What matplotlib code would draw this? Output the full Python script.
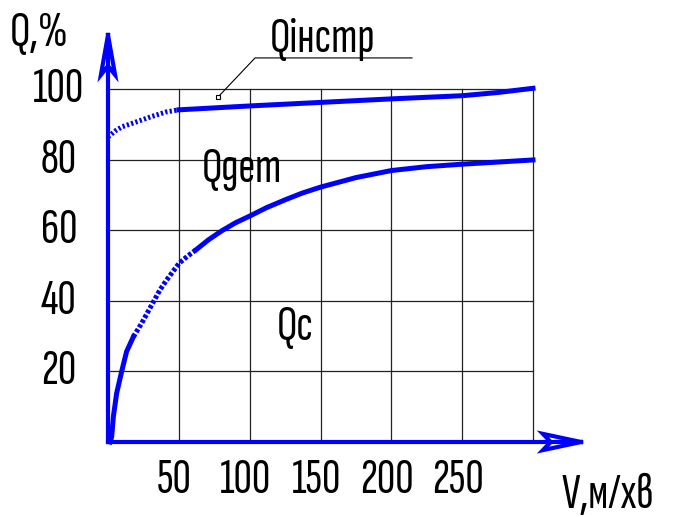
import matplotlib
matplotlib.use("Agg")
import matplotlib.pyplot as plt
from matplotlib import font_manager as fm
from matplotlib.textpath import TextPath
from matplotlib.ft2font import FT2Font

# ---- data ----
x_ticks = [50, 100, 150, 200, 250, 300]
x_tick_labels = ["50", "100", "150", "200", "250"]
y_ticks = [20, 40, 60, 80, 100]
y_tick_labels = ["20", "40", "60", "80", "100"]

# Q_instr: dotted part (0..50) and solid part (50..300)
v_instr_dot = [0, 5, 10, 18, 30, 41, 50]
q_instr_dot = [86.4, 88.1, 89.3, 90.4, 92.1, 93.5, 94.1]
v_instr_sol = [50, 100, 150, 200, 250, 275, 300]
q_instr_sol = [94.1, 95.2, 96.2, 97.2, 98.1, 99.0, 100.2]

# Q_det curve (solid start, dotted middle, solid end)
v_det_a = [1.5, 2.6, 3.8, 6.1, 9.6, 13.1, 17.9]
q_det_a = [0.0, 1.5, 7.2, 13.8, 19.9, 25.6, 29.8]
v_det_b = [17.9, 23.7, 30.8, 36.7, 41.4, 50.1, 56.0, 62.6]
q_det_b = [29.8, 33.6, 38.8, 43.1, 45.9, 50.6, 52.6, 54.6]
v_det_c = [62.6, 71, 80.2, 90, 100, 112, 125, 137, 150, 175, 200, 225, 250, 275, 300]
q_det_c = [54.6, 57.3, 59.8, 62.1, 64.0, 66.4, 68.6, 70.5, 72.2, 74.9, 76.9, 78.0, 78.7, 79.3, 79.9]

blue = "#0000ff"

# ---- pick a narrow font with Cyrillic support ----
candidates = ['Sofia Sans Extra Condensed', 'Fira Sans Extra Condensed', 'Roboto Condensed',
              'PT Sans Narrow', 'Fira Sans Condensed', 'Liberation Sans']
entries = {}
for f in fm.fontManager.ttflist:
    entries.setdefault(f.name, []).append(f)


def has_cyr(path):
    try:
        cm = FT2Font(path).get_charmap()
        return all(ord(c) in cm for c in "детінсрхвм")
    except Exception:
        return False


def wnum(w):
    if isinstance(w, int):
        return w
    return fm.weight_dict.get(str(w), 400)


font_name, font_weight = 'DejaVu Sans', 400
for cand in candidates:
    if cand in entries:
        fl = [f for f in entries[cand] if f.style == 'normal']
        if not fl:
            continue
        fl.sort(key=lambda f: abs(wnum(f.weight) - 300))
        if has_cyr(fl[0].fname):
            font_name = cand
            font_weight = wnum(fl[0].weight)
            break

plt.rcParams['font.family'] = [font_name, 'DejaVu Sans']
prop = fm.FontProperties(family=font_name, weight=font_weight)
ext = TextPath((0, 0), "100", size=1, prop=prop).get_extents()
fs_h = 34.0 * 72 / 100 / ext.height
fs_w = 64.0 * 72 / 100 / ext.width
fs = min(fs_h, fs_w)

fig = plt.figure(figsize=(6.78, 5.17), dpi=100)
ax = fig.add_axes([108 / 678, 75 / 517, 425 / 678, 353 / 517])
ax.set_xlim(0, 300)
ax.set_ylim(0, 100)
ax.axis('off')

# grid
grid_kw = dict(color="#222222", lw=0.9, zorder=1, clip_on=False)
for yv in y_ticks:
    ax.plot([0, 300], [yv, yv], **grid_kw)
for xv in x_ticks:
    ax.plot([xv, xv], [0, 100], **grid_kw)

# curves
lw_c = 3.6
ax.plot(v_instr_dot, q_instr_dot, color=blue, lw=lw_c, linestyle=(0, (0.45, 0.45)),
        zorder=3, clip_on=False)
ax.plot(v_instr_sol, q_instr_sol, color=blue, lw=lw_c, zorder=3, clip_on=False)
ax.plot(v_det_a, q_det_a, color=blue, lw=lw_c, zorder=3, clip_on=False)
ax.plot(v_det_b, q_det_b, color=blue, lw=lw_c, linestyle=(0, (0.7, 0.4)), zorder=3, clip_on=False)
ax.plot(v_det_c, q_det_c, color=blue, lw=lw_c, zorder=3, clip_on=False)

# axes with arrows
lw_a = 3.0
y_top = 115.3
x_end = 333.9
ax.plot([0, 0], [0, y_top - 2], color=blue, lw=lw_a, zorder=4, clip_on=False)
ax.plot([0, x_end - 2], [0, 0], color=blue, lw=lw_a, zorder=4, clip_on=False)
ax.plot([0, -5.0, 0, 5.0, 0], [y_top, 104.0, 106.5, 104.0, y_top], color=blue, lw=lw_a,
        zorder=4, clip_on=False, solid_joinstyle='miter')
ax.plot([x_end, 307, 312.5, 307, x_end], [0, 2.3, 0, -2.3, 0], color=blue, lw=lw_a,
        zorder=4, clip_on=False, solid_joinstyle='miter')

tk = dict(fontsize=fs, color='black', clip_on=False, weight=font_weight)
# tick labels
for yv, lab in zip(y_ticks, y_tick_labels):
    ax.text(-34.6, yv, lab, ha='center', va='center', **tk)
for xv, lab in zip(x_ticks[:-1], x_tick_labels):
    ax.text(xv - 3, -10.8, lab, ha='center', va='center', **tk)

# axis titles
ax.text(-69.2, 112.2, "Q,%", ha='left', va='baseline', **tk)
ax.text(320, -18.8, "V,м/хв", ha='left', va='baseline', **tk)

# curve labels
ax.text(114.4, 110.5, "Qінстр", ha='left', va='baseline', **tk)
ax.text(66.4, 73.7, "Qдет", ha='left', va='baseline', **tk)
ax.text(119.3, 28.9, "Qс", ha='left', va='baseline', **tk)

# leader line for Q_instr
ax.plot([77.6, 103.8, 214.6], [97.7, 108.8, 108.8], color='black', lw=0.8, zorder=5, clip_on=False)
ax.plot([77.6], [97.7], marker='s', markersize=3.2, markerfacecolor='white',
        markeredgecolor='black', markeredgewidth=0.8, zorder=6, clip_on=False)

fig.savefig("out.png", dpi=100)
